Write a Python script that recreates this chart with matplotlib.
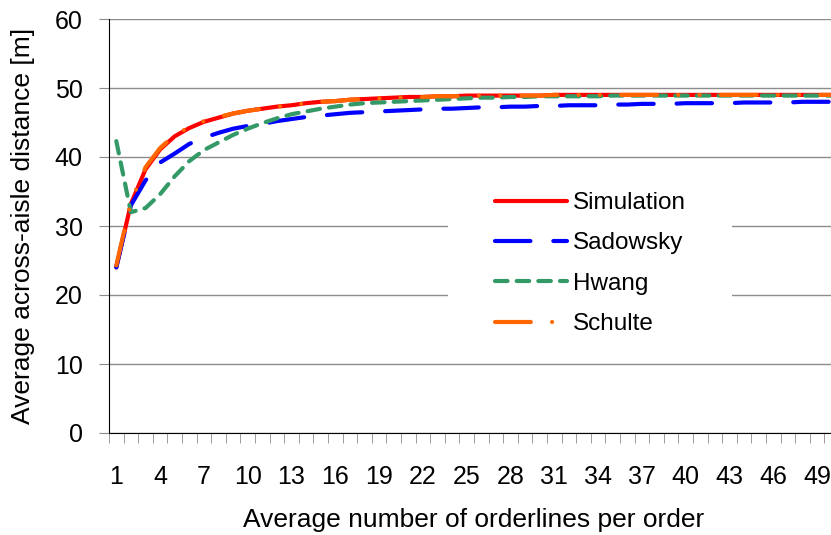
import matplotlib.pyplot as plt
from matplotlib.patches import Rectangle
import numpy as np

plt.rcParams['font.family'] = ['Liberation Sans', 'DejaVu Sans']

# orderlines per order (1..50)
orderlines = np.arange(1, 51)

simulation = [24.0, 33.2, 38.2, 41.1, 43.0, 44.2, 45.1, 45.7, 46.3, 46.7,
              47.0, 47.3, 47.5, 47.8, 48.0, 48.1, 48.3, 48.4, 48.5, 48.6,
              48.7, 48.7, 48.8, 48.8, 48.9, 48.9, 48.9, 48.9, 48.9, 48.9,
              49.0, 49.0, 49.0, 49.0, 49.0, 49.0, 49.0, 49.0, 49.0, 49.0,
              49.0, 49.0, 49.0, 49.0, 49.0, 49.0, 49.0, 49.0, 49.0, 49.0]

sadowsky = [24.0, 33.0, 36.6, 39.2, 40.5, 41.9, 42.8, 43.5, 44.1, 44.5,
            44.8, 45.2, 45.5, 45.8, 46.0, 46.2, 46.4, 46.5, 46.6, 46.7,
            46.8, 46.9, 47.0, 47.0, 47.1, 47.2, 47.2, 47.3, 47.3, 47.4,
            47.4, 47.5, 47.5, 47.5, 47.6, 47.6, 47.7, 47.7, 47.7, 47.8,
            47.8, 47.8, 47.8, 47.9, 47.9, 47.9, 47.9, 48.0, 48.0, 48.0]

hwang = [42.3, 32.0, 32.6, 34.6, 37.2, 39.4, 41.0, 42.1, 43.2, 44.1,
         44.9, 45.6, 46.2, 46.6, 47.0, 47.3, 47.6, 47.8, 47.9, 48.0,
         48.1, 48.2, 48.3, 48.4, 48.5, 48.6, 48.6, 48.7, 48.7, 48.8,
         48.8, 48.8, 48.8, 48.8, 48.9, 48.9, 48.9, 48.9, 48.9, 48.9,
         48.9, 48.9, 48.9, 48.9, 48.9, 48.9, 48.9, 48.9, 48.9, 48.9]

schulte = [24.3, 33.5, 38.5, 41.3, 43.2, 44.3, 45.2, 45.8, 46.3, 46.7,
           47.0, 47.3, 47.5, 47.8, 48.0, 48.1, 48.3, 48.4, 48.5, 48.6,
           48.7, 48.7, 48.8, 48.8, 48.9, 48.9, 48.9, 48.9, 48.9, 48.9,
           49.0, 49.0, 49.0, 49.0, 49.0, 49.0, 49.0, 49.0, 49.0, 49.0,
           49.0, 49.0, 49.0, 49.0, 49.0, 49.0, 49.0, 49.0, 49.0, 49.0]

W, H = 831, 535
fig = plt.figure(figsize=(W / 100, H / 100), dpi=100)
ax = fig.add_axes([109 / W, 1 - 433 / H, 730 / W, 414 / H])

lw = 3
ax.plot(orderlines, simulation, color='#FF0000', lw=lw, label='Simulation',
        solid_capstyle='round', zorder=3)
ax.plot(orderlines, sadowsky, color='#0000FF', lw=lw, label='Sadowsky',
        dashes=(8.5, 5.5), dash_capstyle='round', zorder=4)
ax.plot(orderlines, hwang, color='#339966', lw=lw, label='Hwang',
        dashes=(3, 2.2), dash_capstyle='round', zorder=5)
ax.plot(orderlines, schulte, color='#FF6600', lw=lw, label='Schulte',
        dashes=(8.6, 5.1, 0.01, 5.1, 0.01, 5.1), dash_capstyle='round', zorder=6)

ax.set_xlim(0.5, 50.5)
ax.set_ylim(0, 60)

# y axis
ax.set_yticks(np.arange(0, 61, 10))
ax.grid(axis='y', color='#8c8c8c', lw=1)
ax.tick_params(axis='y', length=7, color='#8c8c8c', labelsize=18, pad=12)

# x axis: labels every 3, ticks at category boundaries
ax.set_xticks(np.arange(1, 51, 3))
ax.set_xticks(np.arange(0.5, 51, 1), minor=True)
ax.tick_params(axis='x', which='major', length=0, labelsize=18, pad=23)
ax.tick_params(axis='x', which='minor', length=7, color='#8c8c8c')

for s in ['top', 'right']:
    ax.spines[s].set_visible(False)
ax.spines['left'].set_color('black')
ax.spines['bottom'].set_color('black')

ax.set_xlabel('Average number of orderlines per order', fontsize=19, labelpad=14)
ax.set_ylabel('Average across-aisle distance [m]', fontsize=19, labelpad=14)

# white legend background over the gridlines
ax.add_patch(Rectangle((448 / W, 1 - 352 / H), 284 / W, 186 / H,
                       transform=fig.transFigure, facecolor='white',
                       edgecolor='none', zorder=2))

leg = ax.legend(loc='upper left', bbox_to_anchor=(495 / W, 1 - 192 / H),
                bbox_transform=fig.transFigure, borderaxespad=0, borderpad=0,
                fontsize=17.5, handlelength=2.96, handletextpad=0.25,
                labelspacing=0.76, frameon=False)
leg.set_zorder(10)

fig.savefig('out.png', dpi=100)
